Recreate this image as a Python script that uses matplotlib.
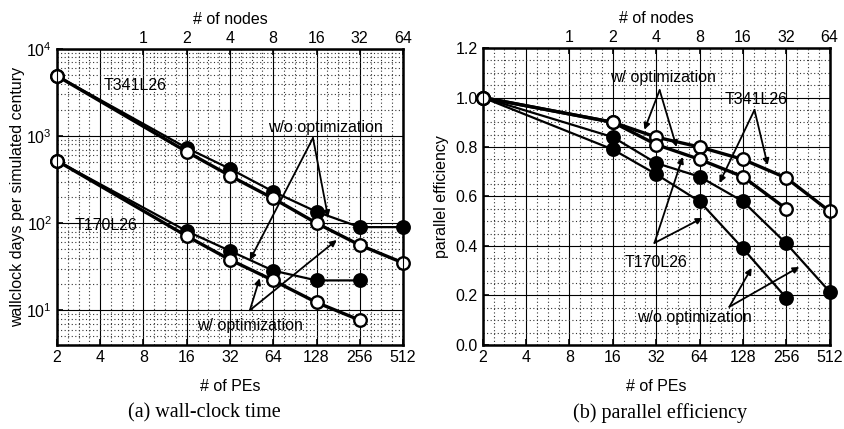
import numpy as np
import matplotlib
matplotlib.use('Agg')
import matplotlib.pyplot as plt
from matplotlib.ticker import FixedLocator, MultipleLocator, LogLocator, NullFormatter

plt.rcParams['font.family'] = ['Liberation Sans', 'DejaVu Sans']

# data
pes_t341 = [2, 16, 32, 64, 128, 256, 512]
pes_t170 = [2, 16, 32, 64, 128, 256]

time_t341_opt = [4900, 660, 350, 192, 100, 56, 35]
time_t341_noopt = [4900, 730, 420, 230, 135, 90, 90]
time_t170_opt = [520, 71, 38, 22, 12.3, 7.7]
time_t170_noopt = [520, 81, 48, 28.5, 22, 22]

eff_t341_opt = [1.0, 0.90, 0.84, 0.80, 0.75, 0.675, 0.54]
eff_t341_noopt = [1.0, 0.84, 0.735, 0.68, 0.58, 0.41, 0.215]
eff_t170_opt = [1.0, 0.90, 0.81, 0.75, 0.68, 0.55]
eff_t170_noopt = [1.0, 0.79, 0.69, 0.58, 0.39, 0.19]

pe_ticks = [2, 4, 8, 16, 32, 64, 128, 256, 512]
node_ticks = [1, 2, 4, 8, 16, 32, 64]
pes_per_node = 8

FS = 11.5

fig = plt.figure(figsize=(8.44, 4.29), dpi=100)
ax1 = fig.add_axes([0.0675, 0.196, 0.41, 0.69])
ax2 = fig.add_axes([0.572, 0.196, 0.411, 0.692])


def style_axis(ax):
    ax.set_xscale('log', base=2)
    ax.set_xlim(2, 512)
    ax.set_xticks(pe_ticks)
    ax.set_xticklabels([str(t) for t in pe_ticks])
    minor = [2 ** (k + j / 4) for k in range(1, 9) for j in range(1, 4)]
    ax.xaxis.set_minor_locator(FixedLocator(minor))
    ax.xaxis.set_minor_formatter(NullFormatter())
    ax.grid(which='major', color='black', lw=0.8, ls='-')
    ax.grid(which='minor', color='0.2', lw=0.8, ls=(0, (1, 2.2)))
    ax.tick_params(which='both', direction='in', labelsize=FS, top=False)
    ax.tick_params(which='minor', length=0)
    ax.tick_params(which='major', length=4, width=1.2)
    for s in ax.spines.values():
        s.set_linewidth(1.8)
    ax.set_xlabel('# of PEs', fontsize=FS, labelpad=10)
    top = ax.twiny()
    top.set_xscale('log', base=2)
    top.set_xlim(ax.get_xlim())
    top.set_xticks([n * pes_per_node for n in node_ticks])
    top.set_xticklabels([str(n) for n in node_ticks])
    top.xaxis.set_minor_locator(FixedLocator([]))
    top.tick_params(direction='in', labelsize=FS, length=4, width=1.2, pad=2)
    top.set_xlabel('# of nodes', fontsize=FS, labelpad=5)


def plot_series(ax, x, y, filled, lw):
    ax.plot(x, y, color='black', lw=lw, marker='o', ms=9,
            mfc='black' if filled else 'white', mec='black', mew=1.7,
            clip_on=False, zorder=4 if not filled else 3)


def arrows(ax, apex, targets):
    for t in targets:
        ax.annotate('', xy=t, xytext=apex,
                    arrowprops=dict(arrowstyle='-|>', color='black', lw=1.3,
                                    mutation_scale=9, shrinkA=0, shrinkB=0),
                    zorder=5)


# (a) wall-clock time
style_axis(ax1)
ax1.set_yscale('log')
ax1.set_ylim(4, 1e4)
ax1.set_yticks([10, 100, 1000, 10000])
ax1.yaxis.set_minor_locator(LogLocator(base=10, subs=np.arange(2, 10)))
ax1.yaxis.set_minor_formatter(NullFormatter())
ax1.tick_params(axis='y', which='minor', length=0)
ax1.set_ylabel('wallclock days per simulated century', fontsize=FS, labelpad=1)

plot_series(ax1, pes_t341, time_t341_noopt, True, 1.6)
plot_series(ax1, pes_t170, time_t170_noopt, True, 1.6)
plot_series(ax1, pes_t341, time_t341_opt, False, 2.4)
plot_series(ax1, pes_t170, time_t170_opt, False, 2.4)

ax1.text(4.2, 3850, 'T341L26', fontsize=FS, va='center', ha='left')
ax1.text(2.67, 95, 'T170L26', fontsize=FS, va='center', ha='left')
ax1.text(59, 1260, 'w/o optimization', fontsize=FS, va='center', ha='left')
arrows(ax1, (121, 950), [(44, 37.6), (154, 117)])
ax1.text(18.9, 6.7, 'w/ optimization', fontsize=FS, va='center', ha='left')
arrows(ax1, (44, 10), [(51.5, 23.3), (177, 64)])

# (b) parallel efficiency
style_axis(ax2)
ax2.set_ylim(0, 1.2)
ax2.yaxis.set_major_locator(MultipleLocator(0.2))
ax2.yaxis.set_minor_locator(MultipleLocator(0.05))
ax2.yaxis.set_major_formatter(plt.FormatStrFormatter('%.1f'))
ax2.tick_params(axis='y', which='minor', length=0)
ax2.set_ylabel('parallel efficiency', fontsize=FS, labelpad=5)

plot_series(ax2, pes_t341, eff_t341_noopt, True, 1.6)
plot_series(ax2, pes_t170, eff_t170_noopt, True, 1.6)
plot_series(ax2, pes_t341, eff_t341_opt, False, 2.4)
plot_series(ax2, pes_t170, eff_t170_opt, False, 2.4)

ax2.text(15.2, 1.08, 'w/ optimization', fontsize=FS, va='center', ha='left')
arrows(ax2, (33.8, 1.03), [(26.5, 0.87), (44.3, 0.80)])
ax2.text(95.7, 0.99, 'T341L26', fontsize=FS, va='center', ha='left')
arrows(ax2, (154, 0.95), [(190, 0.727), (88, 0.655)])
ax2.text(19.3, 0.335, 'T170L26', fontsize=FS, va='center', ha='left')
arrows(ax2, (31.1, 0.412), [(48.9, 0.76), (67, 0.513)])
ax2.text(23.4, 0.109, 'w/o optimization', fontsize=FS, va='center', ha='left')
arrows(ax2, (103, 0.154), [(147, 0.311), (315, 0.315)])

serif = ['Liberation Serif', 'DejaVu Serif']
fig.text(0.242, 0.037, '(a) wall-clock time', family=serif,
         fontsize=14.5, ha='center', va='center')
fig.text(0.782, 0.037, '(b) parallel efficiency', family=serif,
         fontsize=14.5, ha='center', va='center')

fig.savefig('out.png', dpi=100)
